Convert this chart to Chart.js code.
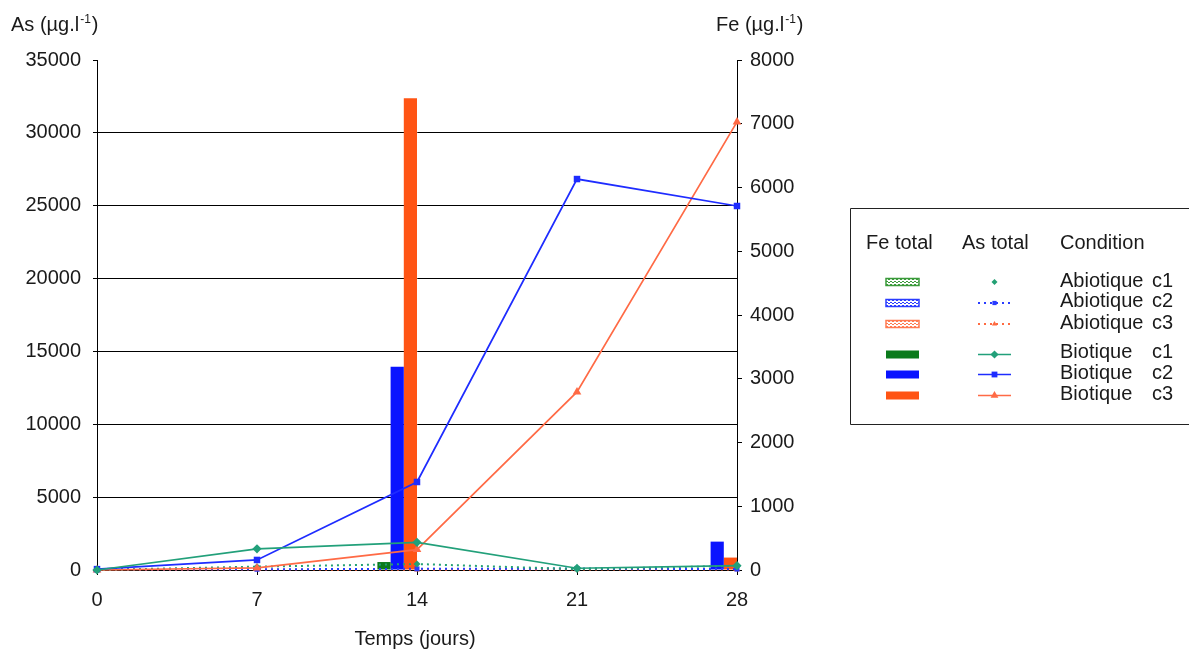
<!DOCTYPE html>
<html>
<head>
<meta charset="utf-8">
<script src="https://cdn.jsdelivr.net/npm/chart.js@4.4.0/dist/chart.umd.min.js"></script>
<style>
  html, body { margin: 0; padding: 0; background: #fff; }
  #wrap { width: 1189px; height: 655px; }
</style>
</head>
<body>
<div id="wrap"><canvas id="chart" width="1189" height="655"></canvas></div>
<script>
// sampling days
const days = [0, 7, 14, 21, 28];
const xTicks = [0, 7, 14, 21, 28];
const asTicks = [0, 5000, 10000, 15000, 20000, 25000, 30000, 35000];
const feTicks = [0, 1000, 2000, 3000, 4000, 5000, 6000, 7000, 8000];

// Fe total (µg/l) - bars, right axis
const feBioC1 = [0, 0, 125, 0, 0];
const feBioC2 = [0, 0, 3190, 0, 445];
const feBioC3 = [0, 0, 7400, 0, 195];
const feAbioC1 = [0, 0, 0, 0, 0];
const feAbioC2 = [0, 0, 0, 0, 0];
const feAbioC3 = [0, 0, 0, 0, 0];

// As total (µg/l) - lines, left axis
const asBioC1 = [0, 1450, 1900, 120, 300];
const asBioC2 = [60, 690, 6040, 26830, 24980];
const asBioC3 = [0, 140, 1400, 12220, 30750];
const asAbioC1 = [0, 230, 410, 60, 280];
const asAbioC2 = [60, 50, 80, 100, 60];
const asAbioC3 = [20, 30, 20, 30, 40];

const FONT = "'Liberation Sans', Arial, sans-serif";
const TXT = '#1a1a1a';

const pts = arr => days.map((d, i) => ({ x: d, y: arr[i] }));

// hatched fill used for the abiotic Fe swatches
function hatch(color) {
  const c = document.createElement('canvas');
  c.width = 4; c.height = 3;
  const g = c.getContext('2d');
  g.fillStyle = '#fff';
  g.fillRect(0, 0, 4, 3);
  g.fillStyle = color;
  g.fillRect(0, 0, 2, 1);
  g.fillRect(2, 2, 2, 1);
  return g.createPattern(c, 'repeat');
}

function barSet(label, arr, color, abiotic) {
  return {
    type: 'bar', label, data: pts(arr), yAxisID: 'y2', order: 2,
    backgroundColor: abiotic ? hatch(color) : color,
    borderColor: color, borderWidth: 0, abiotic,
    categoryPercentage: 0.495, barPercentage: 1
  };
}

function lineSet(label, arr, color, style, abiotic) {
  return {
    type: 'line', label, data: pts(arr), yAxisID: 'y', order: abiotic ? 1 : 0,
    borderColor: color, backgroundColor: color,
    borderWidth: abiotic ? 2 : 1.7,
    borderDash: abiotic ? [2, 4] : [],
    pointStyle: style, pointRadius: abiotic ? 3.5 : (style === 'triangle' ? 5 : 4.6),
    pointBorderWidth: 0, tension: 0, clip: false
  };
}

const datasets = [
  barSet('Biotique c1', feBioC1, '#0b7a1c', false),
  barSet('Biotique c2', feBioC2, '#0a14ff', false),
  barSet('Biotique c3', feBioC3, '#ff5414', false),
  barSet('Abiotique c1', feAbioC1, '#3a9a3a', true),
  barSet('Abiotique c2', feAbioC2, '#2a3cff', true),
  barSet('Abiotique c3', feAbioC3, '#ff7a50', true),
  lineSet('Abiotique c1', asAbioC1, '#23a074', 'rectRot', true),
  lineSet('Abiotique c2', asAbioC2, '#2a3cff', 'rect', true),
  lineSet('Abiotique c3', asAbioC3, '#ff6a40', 'triangle', true),
  lineSet('Biotique c1', asBioC1, '#22a07a', 'rectRot', false),
  lineSet('Biotique c2', asBioC2, '#1e2cff', 'rect', false),
  lineSet('Biotique c3', asBioC3, '#ff6a45', 'triangle', false)
];

// legend rows: [condition, suffix, bar dataset index, line dataset index]
const legendRows = [
  ['Abiotique', 'c1', 3, 6], ['Abiotique', 'c2', 4, 7], ['Abiotique', 'c3', 5, 8],
  ['Biotique', 'c1', 0, 9], ['Biotique', 'c2', 1, 10], ['Biotique', 'c3', 2, 11]
];

function drawUnit(ctx, base, x, y) {
  ctx.font = `20px ${FONT}`;
  ctx.fillText(base, x, y);
  let w = ctx.measureText(base).width;
  ctx.font = `12px ${FONT}`;
  ctx.fillText('-1', x + w + 1, y - 8);
  w += ctx.measureText('-1').width + 2;
  ctx.font = `20px ${FONT}`;
  ctx.fillText(')', x + w, y);
}

const titlesPlugin = {
  id: 'titles',
  afterDraw(chart) {
    const ctx = chart.ctx, a = chart.chartArea;
    ctx.save();
    ctx.fillStyle = TXT;
    ctx.textBaseline = 'alphabetic';
    ctx.textAlign = 'left';
    drawUnit(ctx, 'As (µg.l', 11, 31);
    drawUnit(ctx, 'Fe (µg.l', 716, 31);
    ctx.textAlign = 'center';
    ctx.font = `20px ${FONT}`;
    ctx.fillText('Temps (jours)', (a.left + a.right) / 2 - 2, 645);
    ctx.restore();
  }
};

const boxLegend = {
  id: 'boxLegend',
  afterDraw(chart) {
    const ctx = chart.ctx;
    const left = 850.5, top = 208.5, bottom = 424.5;
    const symY = [282, 303, 324, 354.5, 374.5, 395.5];
    const textY = [287, 307, 329, 358, 379, 400];
    ctx.save();
    ctx.strokeStyle = '#222';
    ctx.lineWidth = 1;
    ctx.beginPath();
    ctx.moveTo(1200, top); ctx.lineTo(left, top); ctx.lineTo(left, bottom); ctx.lineTo(1200, bottom);
    ctx.stroke();

    ctx.font = `20px ${FONT}`;
    ctx.fillStyle = TXT;
    ctx.textBaseline = 'alphabetic';
    ctx.fillText('Fe total', 866, 249);
    ctx.fillText('As total', 962, 249);
    ctx.fillText('Condition', 1060, 249);

    legendRows.forEach((row, i) => {
      const bar = chart.data.datasets[row[2]];
      const line = chart.data.datasets[row[3]];
      const y = symY[i];
      if (bar.abiotic) {
        ctx.fillStyle = bar.backgroundColor;
        ctx.fillRect(886, y - 3.5, 33, 7);
        ctx.strokeStyle = bar.borderColor;
        ctx.lineWidth = 1.5;
        ctx.strokeRect(886, y - 3.5, 33, 7);
      } else {
        ctx.fillStyle = bar.backgroundColor;
        ctx.fillRect(886, y - 4, 33, 8);
      }
      ctx.strokeStyle = line.borderColor;
      ctx.lineWidth = line.borderWidth;
      ctx.setLineDash(line.borderDash);
      if (row[3] !== 6) {
        ctx.beginPath(); ctx.moveTo(978, y); ctx.lineTo(1011, y); ctx.stroke();
      }
      ctx.setLineDash([]);
      ctx.fillStyle = line.backgroundColor;
      Chart.helpers.drawPoint(ctx, { pointStyle: line.pointStyle, radius: line.pointRadius - 0.5, borderWidth: 0, rotation: 0 }, 994.5, y);

      ctx.fillStyle = TXT;
      ctx.fillText(row[0], 1060, textY[i]);
      ctx.fillText(row[1], 1152, textY[i]);
    });
    ctx.restore();
  }
};

const plain = v => String(v);

new Chart(document.getElementById('chart'), {
  type: 'bar',
  data: { datasets },
  plugins: [titlesPlugin, boxLegend],
  options: {
    responsive: false,
    animation: false,
    layout: { padding: { top: 60, left: 0, right: 0, bottom: 0 } },
    plugins: { legend: { display: false }, tooltip: { enabled: false } },
    scales: {
      x: {
        type: 'linear', offset: false, min: 0, max: 28,
        afterFit: s => { s.height = 85; },
        afterBuildTicks: s => { s.ticks = xTicks.map(v => ({ value: v })); },
        border: { color: '#000', width: 1 },
        grid: { offset: false, drawOnChartArea: false, tickLength: 5, tickColor: '#000' },
        ticks: { font: { family: FONT, size: 20 }, color: TXT, padding: 13, maxRotation: 0, callback: plain }
      },
      y: {
        type: 'linear', position: 'left', min: 0, max: 35000,
        afterFit: s => { s.width = 97; },
        afterBuildTicks: s => { s.ticks = asTicks.map(v => ({ value: v })); },
        border: { color: '#000', width: 1 },
        grid: {
          color: c => (c.tick && c.tick.value === 35000) ? 'rgba(0,0,0,0)' : '#000',
          tickColor: '#000', tickLength: 4, lineWidth: 1
        },
        ticks: { font: { family: FONT, size: 20 }, color: TXT, padding: 12, callback: plain }
      },
      y2: {
        type: 'linear', position: 'right', min: 0, max: 8000,
        afterFit: s => { s.width = 1189 - 737; },
        afterBuildTicks: s => { s.ticks = feTicks.map(v => ({ value: v })); },
        border: { color: '#000', width: 1 },
        grid: { drawOnChartArea: false, tickColor: '#000', tickLength: 5 },
        ticks: { font: { family: FONT, size: 20 }, color: TXT, padding: 8, callback: plain }
      }
    }
  }
});
</script>
</body>
</html>
